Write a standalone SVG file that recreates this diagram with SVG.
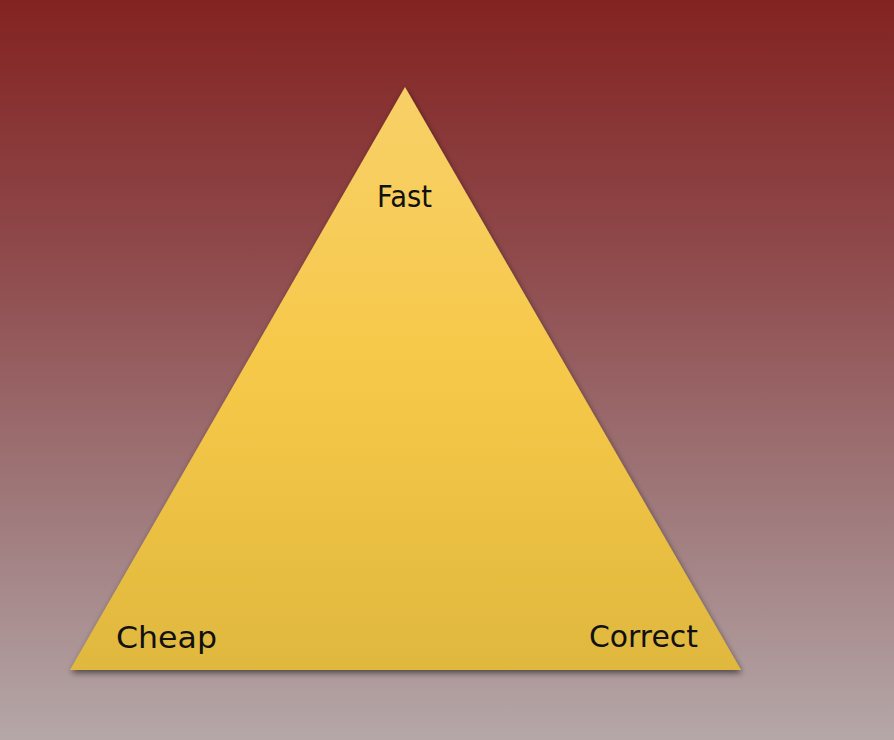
<svg xmlns="http://www.w3.org/2000/svg" width="894" height="740" viewBox="0 0 894 740">
<defs>
<linearGradient id="bg" x1="0" y1="0" x2="0" y2="1">
<stop offset="0" stop-color="#832321"/>
<stop offset="0.35" stop-color="#8f4a4c"/>
<stop offset="0.7" stop-color="#a07b7d"/>
<stop offset="1" stop-color="#b5a7a8"/>
</linearGradient>
<linearGradient id="tri" x1="0" y1="87" x2="0" y2="670" gradientUnits="userSpaceOnUse">
<stop offset="0" stop-color="#f8d068"/>
<stop offset="0.5" stop-color="#f6c848"/>
<stop offset="1" stop-color="#e0b83e"/>
</linearGradient>
<filter id="sh" x="-10%" y="-10%" width="120%" height="125%">
<feGaussianBlur in="SourceAlpha" stdDeviation="3"/>
<feOffset dx="1" dy="3" result="b"/>
<feComponentTransfer><feFuncA type="linear" slope="0.55"/></feComponentTransfer>
<feMerge><feMergeNode/><feMergeNode in="SourceGraphic"/></feMerge>
</filter>
<style>
.lbl{font-family:"DejaVu Sans","Liberation Sans",sans-serif;font-size:29.5px;fill:#111;}
</style>
</defs>
<rect width="894" height="740" fill="url(#bg)"/>
<g id="triangle">
<polygon points="405,87 741,670 70,670" fill="url(#tri)" filter="url(#sh)"/>
</g>
<g id="connectors"/>
<g id="fast"><text class="lbl" x="377" y="207" textLength="55" lengthAdjust="spacingAndGlyphs">Fast</text></g>
<g id="cheap"><text class="lbl" x="116" y="648" textLength="101" lengthAdjust="spacingAndGlyphs">Cheap</text></g>
<g id="correct"><text class="lbl" x="589" y="647" textLength="109" lengthAdjust="spacingAndGlyphs">Correct</text></g>
</svg>
